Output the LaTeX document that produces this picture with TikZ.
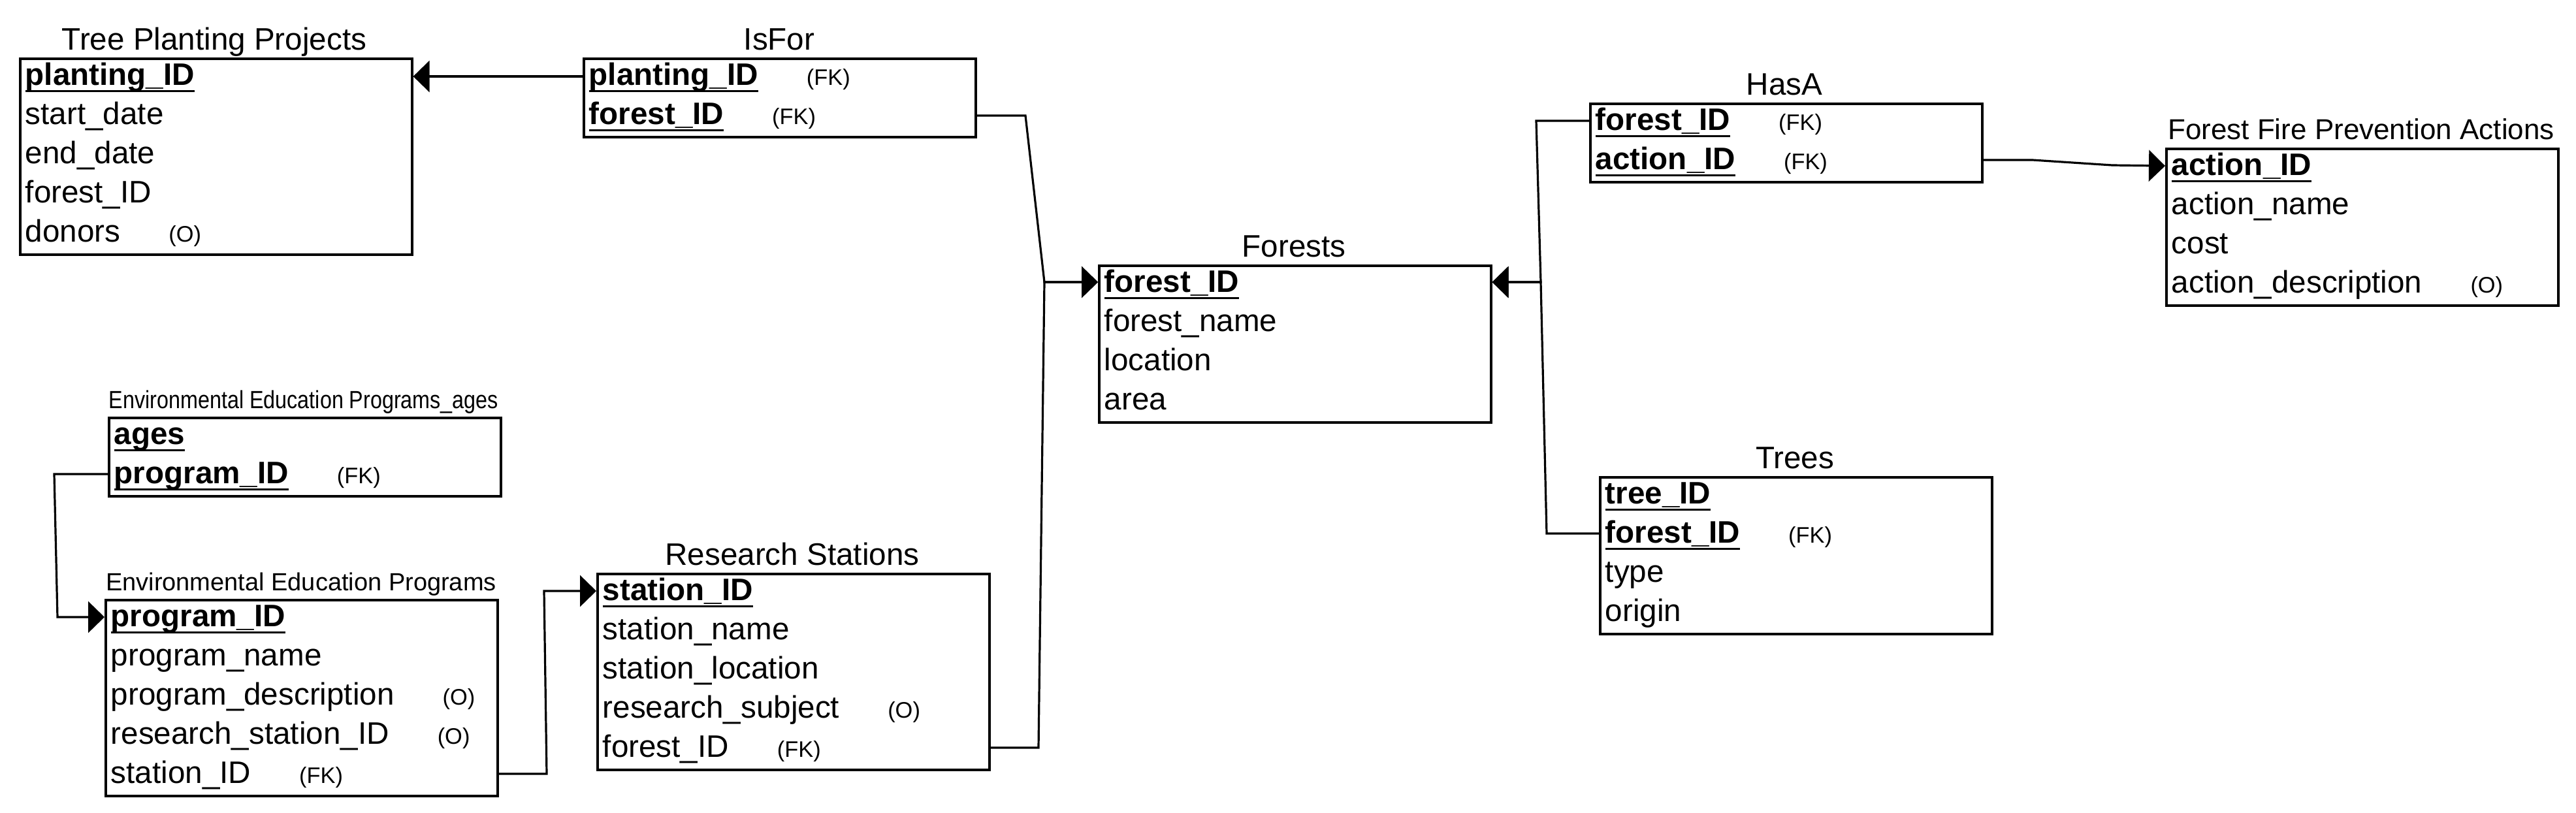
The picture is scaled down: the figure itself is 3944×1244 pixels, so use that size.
\documentclass[tikz,border=0pt]{standalone}
\usepackage{fontspec}
\setmainfont{Liberation Sans}
\usetikzlibrary{arrows.meta,calc}
\newcommand{\bodyfont}{\fontsize{11.9pt}{14pt}\selectfont}
\newcommand{\smallfont}{\fontsize{8.6pt}{10pt}\selectfont}
\newcommand{\pkey}[1]{\setbox0\hbox{\bfseries #1}\rlap{\rule[-2.75pt]{\wd0}{0.75pt}}\box0}
\newcommand{\tagfk}{\hspace{18.5pt}{\smallfont (FK)}}
\newcommand{\tago}{\hspace{18.5pt}{\smallfont (O)}}
\tikzset{
  x=0.25pt, y=-0.25pt,
  tbl/.style={draw, line width=0.9pt, minimum width=150pt, anchor=north west, inner sep=0pt},
  rowtext/.style={anchor=base west, inner sep=0pt, font=\bodyfont},
  ttl/.style={anchor=base, inner sep=0pt, font=\bodyfont},
  conn/.style={draw, line width=0.8pt, line join=miter},
  fk/.style={conn, -{Triangle[length=6.25pt, width=12pt]}}
}
\begin{document}
\begin{tikzpicture}
\fill[white] (0,0) rectangle (3944,1244);
\useasboundingbox (0,0) rectangle (3944,1244);

% ---------- Tree Planting Projects
\node[tbl, minimum height=75pt] (tpp) at (29,88) {};
\node[ttl] (tppt) at (328,76) {Tree Planting Projects};
\node[rowtext] (tpp1) at (38,130) {\pkey{planting\_ID}};
\node[rowtext] (tpp2) at (38,190) {start\_date};
\node[rowtext] (tpp3) at (38,250) {end\_date};
\node[rowtext] (tpp4) at (38,310) {forest\_ID};
\node[rowtext] (tpp5) at (38,370) {donors\tago};

% ---------- IsFor
\node[tbl, minimum height=30pt] (isfor) at (892,88) {};
\node[ttl] (isfort) at (1193,76) {IsFor};
\node[rowtext] (isfor1) at (901,130) {\pkey{planting\_ID}\tagfk};
\node[rowtext] (isfor2) at (901,190) {\pkey{forest\_ID}\tagfk};

% ---------- Forests
\node[tbl, minimum height=60pt] (forests) at (1681,405) {};
\node[ttl] (forestst) at (1981,393) {Forests};
\node[rowtext] (forests1) at (1690,447) {\pkey{forest\_ID}};
\node[rowtext] (forests2) at (1690,507) {forest\_name};
\node[rowtext] (forests3) at (1690,567) {location};
\node[rowtext] (forests4) at (1690,627) {area};

% ---------- HasA
\node[tbl, minimum height=30pt] (hasa) at (2433,157) {};
\node[ttl] (hasat) at (2732,145) {HasA};
\node[rowtext] (hasa1) at (2442,199) {\pkey{forest\_ID}\tagfk};
\node[rowtext] (hasa2) at (2442,259) {\pkey{action\_ID}\tagfk};

% ---------- Forest Fire Prevention Actions
\node[tbl, minimum height=60pt] (ffpa) at (3315,226) {};
\node[ttl, font=\fontsize{11pt}{13pt}\selectfont] (ffpat) at (3615,213) {Forest Fire Prevention Actions};
\node[rowtext] (ffpa1) at (3324,268) {\pkey{action\_ID}};
\node[rowtext] (ffpa2) at (3324,328) {action\_name};
\node[rowtext] (ffpa3) at (3324,388) {cost};
\node[rowtext] (ffpa4) at (3324,448) {action\_description\tago};

% ---------- Trees
\node[tbl, minimum height=60pt] (trees) at (2448,729) {};
\node[ttl] (treest) at (2748,717) {Trees};
\node[rowtext] (trees1) at (2457,771) {\pkey{tree\_ID}};
\node[rowtext] (trees2) at (2457,831) {\pkey{forest\_ID}\tagfk};
\node[rowtext] (trees3) at (2457,891) {type};
\node[rowtext] (trees4) at (2457,951) {origin};

% ---------- Environmental Education Programs_ages
\node[tbl, minimum height=30pt] (eepa) at (165,638) {};
\node[ttl, font=\fontsize{9.5pt}{11pt}\selectfont] (eepat) at (465,625) {\scalebox{0.85}[1]{Environmental Education Programs\_ages}};
\node[rowtext] (eepa1) at (174,680) {\pkey{ages}};
\node[rowtext] (eepa2) at (174,740) {\pkey{program\_ID}\tagfk};

% ---------- Environmental Education Programs
\node[tbl, minimum height=75pt] (eep) at (160,917) {};
\node[ttl, font=\fontsize{9.5pt}{11pt}\selectfont] (eept) at (461,904) {Environmental Education Programs};
\node[rowtext] (eep1) at (169,959) {\pkey{program\_ID}};
\node[rowtext] (eep2) at (169,1019) {program\_name};
\node[rowtext] (eep3) at (169,1079) {program\_description\tago};
\node[rowtext] (eep4) at (169,1139) {research\_station\_ID\tago};
\node[rowtext] (eep5) at (169,1199) {station\_ID\tagfk};

% ---------- Research Stations
\node[tbl, minimum height=75pt] (rs) at (913,877) {};
\node[ttl] (rst) at (1213,865) {Research Stations};
\node[rowtext] (rs1) at (922,919) {\pkey{station\_ID}};
\node[rowtext] (rs2) at (922,979) {station\_name};
\node[rowtext] (rs3) at (922,1039) {station\_location};
\node[rowtext] (rs4) at (922,1099) {research\_subject\tago};
\node[rowtext] (rs5) at (922,1159) {forest\_ID\tagfk};

% ---------- bend points
\coordinate (b1) at (1570,177);
\coordinate (bj) at (1599,432);
\coordinate (b2) at (1590,1145);
\coordinate (b3) at (2352,185);
\coordinate (bk) at (2359,432);
\coordinate (b4) at (2368,817);
\coordinate (b5) at (3112,245);
\coordinate (b6) at (3234,253);
\coordinate (b7) at (83,726);
\coordinate (b8) at (88,945);
\coordinate (b9) at (837,1185);
\coordinate (b10) at (833,905);

% ---------- connectors
\draw[fk] ($(isfor.north west)+(0,29)$) -- ($(tpp.north east)+(0,29)$);
\draw[fk] ($(isfor.north east)+(0,89)$) -- (b1) -- (bj) -- ($(forests.north west)+(0,27)$);
\draw[fk] ($(rs.north east)+(0,268)$) -- (b2) -- (bj) -- ($(forests.north west)+(0,27)$);
\draw[fk] ($(hasa.north west)+(0,28)$) -- (b3) -- (bk) -- ($(forests.north east)+(0,27)$);
\draw[fk] ($(trees.north west)+(0,88)$) -- (b4) -- (bk) -- ($(forests.north east)+(0,27)$);
\draw[fk] ($(hasa.north east)+(0,88)$) -- (b5) -- (b6) -- ($(ffpa.north west)+(0,28)$);
\draw[fk] ($(eepa.north west)+(0,88)$) -- (b7) -- (b8) -- ($(eep.north west)+(0,28)$);
\draw[fk] ($(eep.north east)+(0,268)$) -- (b9) -- (b10) -- ($(rs.north west)+(0,28)$);
\end{tikzpicture}
\end{document}
